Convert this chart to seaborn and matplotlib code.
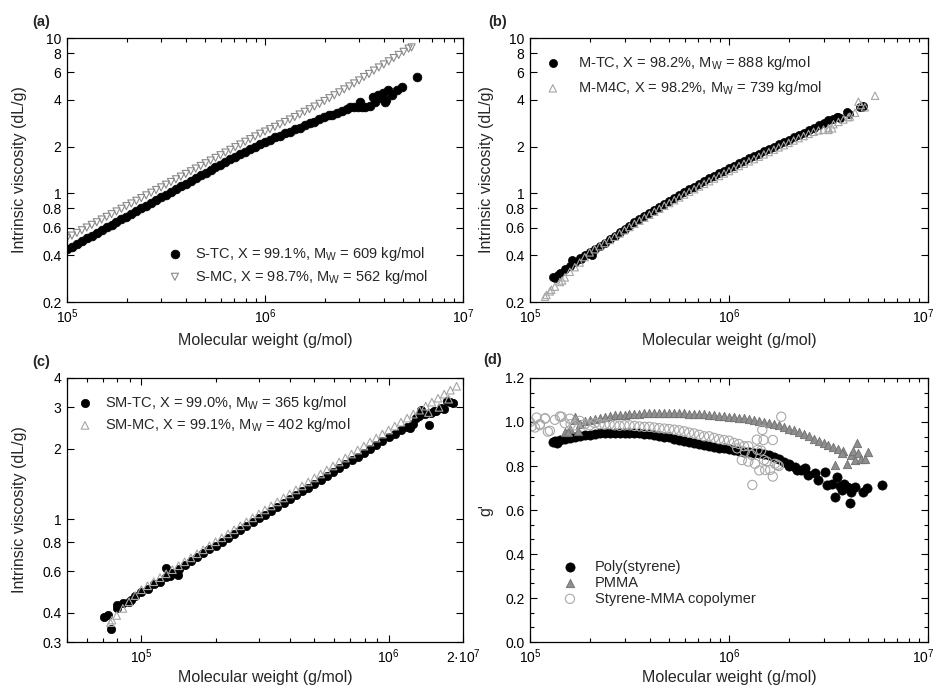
import matplotlib
matplotlib.use("Agg")
import matplotlib.pyplot as plt
import matplotlib.transforms as mtransforms
from matplotlib.ticker import (FixedLocator, FixedFormatter, NullLocator,
                               LogLocator, AutoMinorLocator, MultipleLocator,
                               FormatStrFormatter, NullFormatter)
import seaborn as sns

sns.set_style("ticks")
plt.rcParams["font.family"] = ["Liberation Sans", "DejaVu Sans"]
plt.rcParams["mathtext.fontset"] = "custom"
plt.rcParams["mathtext.rm"] = "Liberation Sans"
plt.rcParams["mathtext.it"] = "Liberation Sans:italic"
plt.rcParams["mathtext.bf"] = "Liberation Sans:bold"

# Molecular-weight ladder (g/mol) in 0.025-decade steps, 7.08e4 ... 5.31e6
mw_ladder = [
    7.079e4, 7.499e4, 7.943e4, 8.414e4, 8.913e4, 9.441e4,
    1.000e5, 1.059e5, 1.122e5, 1.189e5, 1.259e5, 1.334e5, 1.413e5, 1.496e5, 1.585e5, 1.679e5,
    1.778e5, 1.884e5, 1.995e5, 2.113e5, 2.239e5, 2.371e5, 2.512e5, 2.661e5, 2.818e5, 2.985e5,
    3.162e5, 3.350e5, 3.548e5, 3.758e5, 3.981e5, 4.217e5, 4.467e5, 4.732e5, 5.012e5, 5.309e5,
    5.623e5, 5.957e5, 6.310e5, 6.683e5, 7.079e5, 7.499e5, 7.943e5, 8.414e5, 8.913e5, 9.441e5,
    1.000e6, 1.059e6, 1.122e6, 1.189e6, 1.259e6, 1.334e6, 1.413e6, 1.496e6, 1.585e6, 1.679e6,
    1.778e6, 1.884e6, 1.995e6, 2.113e6, 2.239e6, 2.371e6, 2.512e6, 2.661e6, 2.818e6, 2.985e6,
    3.162e6, 3.350e6, 3.548e6, 3.758e6, 3.981e6, 4.217e6, 4.467e6, 4.732e6, 5.012e6, 5.309e6,
]

# ---- (a) polystyrene: intrinsic viscosity (dL/g) ----
stc_mw = mw_ladder[6:60] + [2.17e6, 2.30e6, 2.44e6, 2.60e6, 2.68e6, 2.83e6, 2.95e6, 3.02e6,
                            3.10e6, 3.20e6, 3.39e6, 3.52e6, 3.60e6, 3.73e6, 3.85e6, 3.96e6,
                            4.04e6, 4.10e6, 4.20e6, 4.40e6, 4.62e6, 4.90e6, 5.83e6]
stc_iv = [0.437, 0.455, 0.473, 0.493, 0.513, 0.535, 0.557, 0.580, 0.604, 0.629,
          0.655, 0.682, 0.710, 0.739, 0.770, 0.802, 0.835, 0.869, 0.905, 0.943,
          0.982, 1.022, 1.065, 1.109, 1.155, 1.202, 1.252, 1.304, 1.358, 1.414,
          1.472, 1.533, 1.593, 1.655, 1.718, 1.785, 1.855, 1.925, 2.000, 2.075,
          2.150, 2.220, 2.290, 2.350, 2.430, 2.500, 2.580, 2.650, 2.740, 2.820,
          2.900, 2.990, 3.080, 3.180,
          3.19, 3.30, 3.39, 3.50, 3.58, 3.60, 3.62, 3.89,
          3.60, 3.62, 3.65, 4.19, 3.90, 4.30, 4.10, 4.41,
          3.89, 4.00, 4.62, 4.30, 4.62, 4.86, 5.64]

smc_mw = mw_ladder[6:76] + [5.50e6]
smc_iv = [0.514, 0.535, 0.556, 0.579, 0.603, 0.627, 0.652, 0.679, 0.706, 0.735,
          0.765, 0.796, 0.828, 0.861, 0.896, 0.933, 0.971, 1.010, 1.051, 1.093,
          1.138, 1.184, 1.232, 1.282, 1.334, 1.388, 1.444, 1.502, 1.563, 1.627,
          1.692, 1.761, 1.832, 1.907, 1.984, 2.064, 2.148, 2.235, 2.325, 2.420,
          2.500, 2.590, 2.680, 2.780, 2.880, 2.990, 3.100, 3.220, 3.350, 3.480,
          3.620, 3.770, 3.930, 4.100, 4.280, 4.470, 4.670, 4.880, 5.100, 5.330,
          5.610, 5.870, 6.170, 6.460, 6.760, 7.080, 7.430, 7.780, 8.150, 8.540,
          8.70]

# ---- (b) PMMA: intrinsic viscosity (dL/g) ----
mtc_mw = mw_ladder[11:69] + [1.31e5, 1.38e5, 1.62e5, 1.80e5, 2.05e5, 3.50e6,
                             3.60e6, 3.90e6, 4.00e6, 4.55e6, 4.64e6, 4.73e6]
mtc_iv = [0.285, 0.309, 0.324, 0.343, 0.363, 0.385, 0.403, 0.422, 0.437, 0.457,
          0.481, 0.507, 0.535, 0.562, 0.592, 0.621, 0.652, 0.684, 0.716, 0.750,
          0.785, 0.822, 0.859, 0.897, 0.938, 0.977, 1.019, 1.062, 1.107, 1.153,
          1.199, 1.247, 1.297, 1.349, 1.403, 1.455, 1.510, 1.567, 1.626, 1.683,
          1.742, 1.803, 1.866, 1.932, 1.995, 2.065, 2.138, 2.213, 2.291, 2.371,
          2.455, 2.541, 2.630, 2.754, 2.851, 2.951, 3.020, 3.090,
          0.290, 0.300, 0.372, 0.380, 0.400, 3.10,
          3.05, 3.36, 3.24, 3.62, 3.61, 3.67]

mm4c_mw = mw_ladder[9:71] + [1.21e5, 1.28e5, 1.45e5, 3.16e6, 3.30e6, 4.05e6,
                             4.30e6, 4.47e6, 4.60e6, 4.82e6, 5.42e6]
mm4c_iv = [0.216, 0.234, 0.251, 0.269, 0.288, 0.313, 0.335, 0.359, 0.389, 0.417,
           0.437, 0.457, 0.479, 0.501, 0.526, 0.552, 0.579, 0.608, 0.637, 0.667,
           0.698, 0.729, 0.762, 0.796, 0.832, 0.867, 0.904, 0.942, 0.982, 1.023,
           1.064, 1.107, 1.151, 1.197, 1.245, 1.294, 1.343, 1.393, 1.445, 1.500,
           1.552, 1.607, 1.663, 1.722, 1.782, 1.845, 1.910, 1.977, 2.042, 2.113,
           2.188, 2.265, 2.339, 2.415, 2.489, 2.541, 2.570, 2.630, 2.786, 2.884,
           2.985, 3.090,
           0.222, 0.240, 0.275, 2.56, 2.62, 3.12,
           3.30, 3.89, 3.70, 3.58, 4.25]

# ---- (c) styrene-MMA copolymer: intrinsic viscosity (dL/g) ----
smtc_mw = mw_ladder[0:50] + [7.3e4, 8.0e4, 9.1e4, 1.26e5, 1.30e5, 1.40e5,
                             1.22e6, 1.26e6, 1.29e6, 1.33e6, 1.35e6, 1.40e6, 1.46e6,
                             1.48e6, 1.52e6, 1.55e6, 1.63e6, 1.68e6, 1.73e6, 1.78e6, 1.82e6]
smtc_iv = [0.382, 0.340, 0.420, 0.440, 0.445, 0.470, 0.490, 0.505, 0.528, 0.540,
           0.570, 0.592, 0.612, 0.639, 0.664, 0.690, 0.716, 0.744, 0.773, 0.803,
           0.834, 0.866, 0.899, 0.934, 0.971, 1.008, 1.047, 1.088, 1.130, 1.174,
           1.219, 1.266, 1.315, 1.366, 1.419, 1.474, 1.531, 1.590, 1.652, 1.716,
           1.782, 1.851, 1.923, 1.998, 2.075, 2.156, 2.239, 2.310, 2.390, 2.470,
           0.39, 0.43, 0.455, 0.623, 0.575, 0.58,
           2.45, 2.55, 2.69, 2.75, 2.92, 2.80, 2.52,
           2.83, 2.88, 2.90, 2.98, 2.95, 3.20, 3.15, 3.12]

smmc_mw = mw_ladder[1:58] + [7.6e4, 1.45e6, 1.60e6, 1.75e6]
smmc_iv = [0.363, 0.389, 0.417, 0.445, 0.473, 0.501, 0.521, 0.542, 0.564, 0.586,
           0.610, 0.634, 0.659, 0.685, 0.713, 0.741, 0.771, 0.802, 0.834, 0.867,
           0.902, 0.938, 0.975, 1.014, 1.054, 1.096, 1.140, 1.186, 1.233, 1.282,
           1.334, 1.387, 1.442, 1.500, 1.560, 1.622, 1.687, 1.754, 1.824, 1.897,
           1.972, 2.051, 2.133, 2.218, 2.307, 2.399, 2.495, 2.594, 2.698, 2.805,
           2.917, 3.034, 3.155, 3.281, 3.412, 3.548, 3.690,
           0.372, 2.85, 3.00, 3.25]

# ---- (d) contraction factor g' ----
ps_mw = mw_ladder[11:59] + [1.30e5, 1.36e5, 2.0e6, 2.15e6, 2.2e6, 2.3e6, 2.41e6, 2.5e6,
                            2.71e6, 2.81e6, 3.03e6, 3.1e6, 3.3e6, 3.41e6, 3.48e6, 3.6e6,
                            3.7e6, 3.8e6, 3.9e6, 4.0e6, 4.05e6, 4.1e6, 4.3e6, 4.73e6,
                            4.91e6, 5.84e6]
ps_g = [0.912, 0.918, 0.925, 0.929, 0.933, 0.937, 0.940, 0.943, 0.946, 0.948,
        0.950, 0.951, 0.951, 0.952, 0.951, 0.950, 0.949, 0.948, 0.946, 0.944,
        0.941, 0.938, 0.934, 0.930, 0.925, 0.920, 0.915, 0.909, 0.903, 0.899,
        0.895, 0.891, 0.887, 0.883, 0.880, 0.876, 0.872, 0.868, 0.865, 0.862,
        0.860, 0.858, 0.853, 0.848, 0.840, 0.830, 0.820, 0.810,
        0.910, 0.905, 0.800, 0.797, 0.780, 0.780, 0.789, 0.760,
        0.767, 0.736, 0.774, 0.714, 0.720, 0.660, 0.751, 0.710,
        0.690, 0.720, 0.706, 0.700, 0.630, 0.680, 0.706, 0.683,
        0.699, 0.714]

pmma_mw = mw_ladder[13:70] + [1.56e5, 1.68e5, 1.75e5, 3.41e6, 3.7e6, 3.9e6, 4.1e6,
                              4.2e6, 4.3e6, 4.38e6, 4.47e6, 4.6e6, 4.8e6, 5.0e6]
pmma_g = [0.955, 0.970, 1.010, 0.990, 1.005, 1.010, 1.015, 1.020, 1.025, 1.028,
          1.030, 1.032, 1.034, 1.036, 1.037, 1.038, 1.039, 1.040, 1.040, 1.041,
          1.041, 1.041, 1.040, 1.040, 1.039, 1.038, 1.037, 1.036, 1.035, 1.033,
          1.031, 1.029, 1.027, 1.025, 1.023, 1.020, 1.017, 1.014, 1.010, 1.006,
          1.002, 0.997, 0.991, 0.985, 0.978, 0.970, 0.962, 0.953, 0.944, 0.935,
          0.925, 0.915, 0.905, 0.895, 0.887, 0.878, 0.870,
          0.956, 1.024, 0.960, 0.805, 0.860, 0.810, 0.850,
          0.870, 0.827, 0.903, 0.860, 0.830, 0.830, 0.865]

co_mw = mw_ladder[6:50] + [1.02e5, 1.08e5, 1.12e5, 1.19e5, 1.23e5, 1.44e5, 1.60e5,
                           1.10e6, 1.16e6, 1.20e6, 1.25e6, 1.25e6, 1.30e6, 1.31e6, 1.35e6,
                           1.38e6, 1.39e6, 1.42e6, 1.45e6, 1.47e6, 1.49e6, 1.50e6, 1.52e6,
                           1.55e6, 1.61e6, 1.66e6, 1.66e6, 1.70e6, 1.75e6, 1.78e6, 1.83e6]
co_g = [1.000, 0.975, 0.990, 1.015, 0.960, 1.010, 1.025, 0.995, 1.015, 0.985,
        1.005, 0.990, 0.985, 0.995, 0.990, 0.988, 0.990, 0.985, 0.983, 0.985,
        0.985, 0.982, 0.980, 0.978, 0.978, 0.975, 0.972, 0.970, 0.968, 0.965,
        0.962, 0.958, 0.952, 0.948, 0.942, 0.935, 0.935, 0.928, 0.922, 0.918,
        0.915, 0.905, 0.900, 0.890,
        0.980, 1.020, 0.986, 1.017, 0.956, 1.024, 0.990,
        0.880, 0.827, 0.865, 0.890, 0.820, 0.850, 0.714, 0.810,
        0.920, 0.873, 0.780, 0.870, 0.964, 0.918, 0.827, 0.782,
        0.820, 0.782, 0.918, 0.752, 0.810, 0.805, 0.800, 1.024]

iv_ticks_ab = [0.2, 0.4, 0.6, 0.8, 1, 2, 4, 6, 8, 10]
iv_labels_ab = ["0.2", "0.4", "0.6", "0.8", "1", "2", "4", "6", "8", "10"]
iv_ticks_c = [0.3, 0.4, 0.6, 0.8, 1, 2, 3, 4]
iv_labels_c = ["0.3", "0.4", "0.6", "0.8", "1", "2", "3", "4"]
mw_ticks = [1e5, 1e6, 1e7]
mw_labels = [r"$\mathregular{10^5}$", r"$\mathregular{10^6}$", r"$\mathregular{10^7}$"]
mw_ticks_c = [1e5, 1e6, 2e6]
mw_labels_c = [r"$\mathregular{10^5}$", r"$\mathregular{10^6}$", r"$\mathregular{2·10^7}$"]

XLABEL = "Molecular weight (g/mol)"
YLABEL = "Intrinsic viscosity (dL/g)"
W, H = 937, 695


def px_axes(x0, y0, x1, y1):
    return fig.add_axes([x0 / W, 1 - y1 / H, (x1 - x0) / W, (y1 - y0) / H])


def style_axes(ax):
    for sp in ax.spines.values():
        sp.set_visible(True)
        sp.set_linewidth(0.9)
        sp.set_color("black")
    ax.tick_params(which="both", direction="in", top=True, right=True,
                   labelsize=10, width=0.8, colors="black", pad=4)
    ax.tick_params(which="major", length=5)
    ax.tick_params(which="minor", length=3)


def log_x(ax, lo, hi, ticks, labels):
    ax.set_xscale("log")
    ax.set_xlim(lo, hi)
    ax.xaxis.set_major_locator(FixedLocator(ticks))
    ax.xaxis.set_major_formatter(FixedFormatter(labels))
    ax.xaxis.set_minor_locator(LogLocator(base=10, subs=range(2, 10), numticks=20))
    ax.xaxis.set_minor_formatter(NullFormatter())


def log_y(ax, lo, hi, ticks, labels):
    ax.set_yscale("log")
    ax.set_ylim(lo, hi)
    ax.yaxis.set_major_locator(FixedLocator(ticks))
    ax.yaxis.set_major_formatter(FixedFormatter(labels))
    ax.yaxis.set_minor_locator(NullLocator())


def legend(ax, order, x, y, spacing, pad):
    h, l = ax.get_legend_handles_labels()
    ax.legend([h[i] for i in order], [l[i] for i in order], loc="upper left",
              bbox_to_anchor=(x, y), frameon=False, fontsize=10.5,
              borderpad=0, borderaxespad=0, handlelength=1.0,
              handletextpad=pad, labelspacing=spacing, scatterpoints=1)


fig = plt.figure(figsize=(W / 100, H / 100), dpi=100)

# (a)
ax_a = px_axes(67, 38, 463, 302)
sns.scatterplot(x=smc_mw, y=smc_iv, ax=ax_a, marker="v", s=26, facecolor="none",
                edgecolor="#8a8a8a", linewidth=0.8,
                label=r"S-MC, X = 98.7%, $\mathregular{M_W}$ = 562 kg/mol")
sns.scatterplot(x=stc_mw, y=stc_iv, ax=ax_a, marker="o", s=40, color="black",
                edgecolor="black", linewidth=0.5,
                label=r"S-TC, X = 99.1%, $\mathregular{M_W}$ = 609 kg/mol")
log_x(ax_a, 1e5, 1e7, mw_ticks, mw_labels)
log_y(ax_a, 0.2, 10, iv_ticks_ab, iv_labels_ab)
legend(ax_a, [1, 0], 0.254, 0.215, 0.3, 0.9)

# (b)
ax_b = px_axes(530, 38, 928, 302)
sns.scatterplot(x=mtc_mw, y=mtc_iv, ax=ax_b, marker="o", s=34, color="black",
                edgecolor="black", linewidth=0.5,
                label=r"M-TC, X = 98.2%, $\mathregular{M_W}$ = 888 kg/mol")
sns.scatterplot(x=mm4c_mw, y=mm4c_iv, ax=ax_b, marker="^", s=28, facecolor="none",
                edgecolor="#a6a6a6", linewidth=0.8,
                label=r"M-M4C, X = 98.2%, $\mathregular{M_W}$ = 739 kg/mol")
log_x(ax_b, 1e5, 1e7, mw_ticks, mw_labels)
log_y(ax_b, 0.2, 10, iv_ticks_ab, iv_labels_ab)
legend(ax_b, [0, 1], 0.039, 0.94, 0.5, 1.2)

# (c)
ax_c = px_axes(67, 378, 463, 642)
sns.scatterplot(x=smtc_mw, y=smtc_iv, ax=ax_c, marker="o", s=36, color="black",
                edgecolor="black", linewidth=0.5,
                label=r"SM-TC, X = 99.0%, $\mathregular{M_W}$ = 365 kg/mol")
sns.scatterplot(x=smmc_mw, y=smmc_iv, ax=ax_c, marker="^", s=30, facecolor="none",
                edgecolor="#a6a6a6", linewidth=0.8,
                label=r"SM-MC, X = 99.1%, $\mathregular{M_W}$ = 402 kg/mol")
log_x(ax_c, 5e4, 2e6, mw_ticks_c, mw_labels_c)
log_y(ax_c, 0.3, 4, iv_ticks_c, iv_labels_c)
legend(ax_c, [0, 1], 0.027, 0.94, 0.3, 0.9)

# (d)
ax_d = px_axes(530, 378, 928, 642)
sns.scatterplot(x=ps_mw, y=ps_g, ax=ax_d, marker="o", s=44, color="black",
                edgecolor="black", linewidth=0.5, label="Poly(styrene)")
sns.scatterplot(x=pmma_mw, y=pmma_g, ax=ax_d, marker="^", s=36, color="#8e8e8e",
                edgecolor="#6e6e6e", linewidth=0.6, label="PMMA")
sns.scatterplot(x=co_mw, y=co_g, ax=ax_d, marker="o", s=44, facecolor="none",
                edgecolor="#a8a8a8", linewidth=0.8, label="Styrene-MMA copolymer")
log_x(ax_d, 1e5, 1e7, mw_ticks, mw_labels)
ax_d.set_ylim(0, 1.2)
ax_d.yaxis.set_major_locator(MultipleLocator(0.2))
ax_d.yaxis.set_major_formatter(FormatStrFormatter("%.1f"))
ax_d.yaxis.set_minor_locator(AutoMinorLocator(3))
legend(ax_d, [0, 1, 2], 0.082, 0.31, 0.12, 1.2)

for ax, ylab, ylx, xly in [(ax_a, YLABEL, -0.100, -0.117), (ax_b, YLABEL, -0.091, -0.117),
                           (ax_c, YLABEL, -0.100, -0.106), (ax_d, "g'", -0.093, -0.106)]:
    style_axes(ax)
    ax.set_xlabel(XLABEL, fontsize=11.5)
    ax.set_ylabel(ylab, fontsize=11.5)
    ax.yaxis.set_label_coords(ylx, 0.5)
    ax.xaxis.set_label_coords(0.5, xly)

# keep the right-most decade label of the right-hand panels inside the canvas
shift_left = mtransforms.ScaledTranslation(-5 / 100, 0, fig.dpi_scale_trans)
for ax in (ax_b, ax_d):
    lab = ax.xaxis.get_major_ticks()[-1].label1
    lab.set_transform(lab.get_transform() + shift_left)

for txt, x, y in [("(a)", 41, 22), ("(b)", 498, 22), ("(c)", 41, 362), ("(d)", 493, 360)]:
    fig.text(x / W, 1 - y / H, txt, fontsize=10.5, fontweight="bold",
             ha="center", va="center")

fig.savefig("out.png", dpi=100)
